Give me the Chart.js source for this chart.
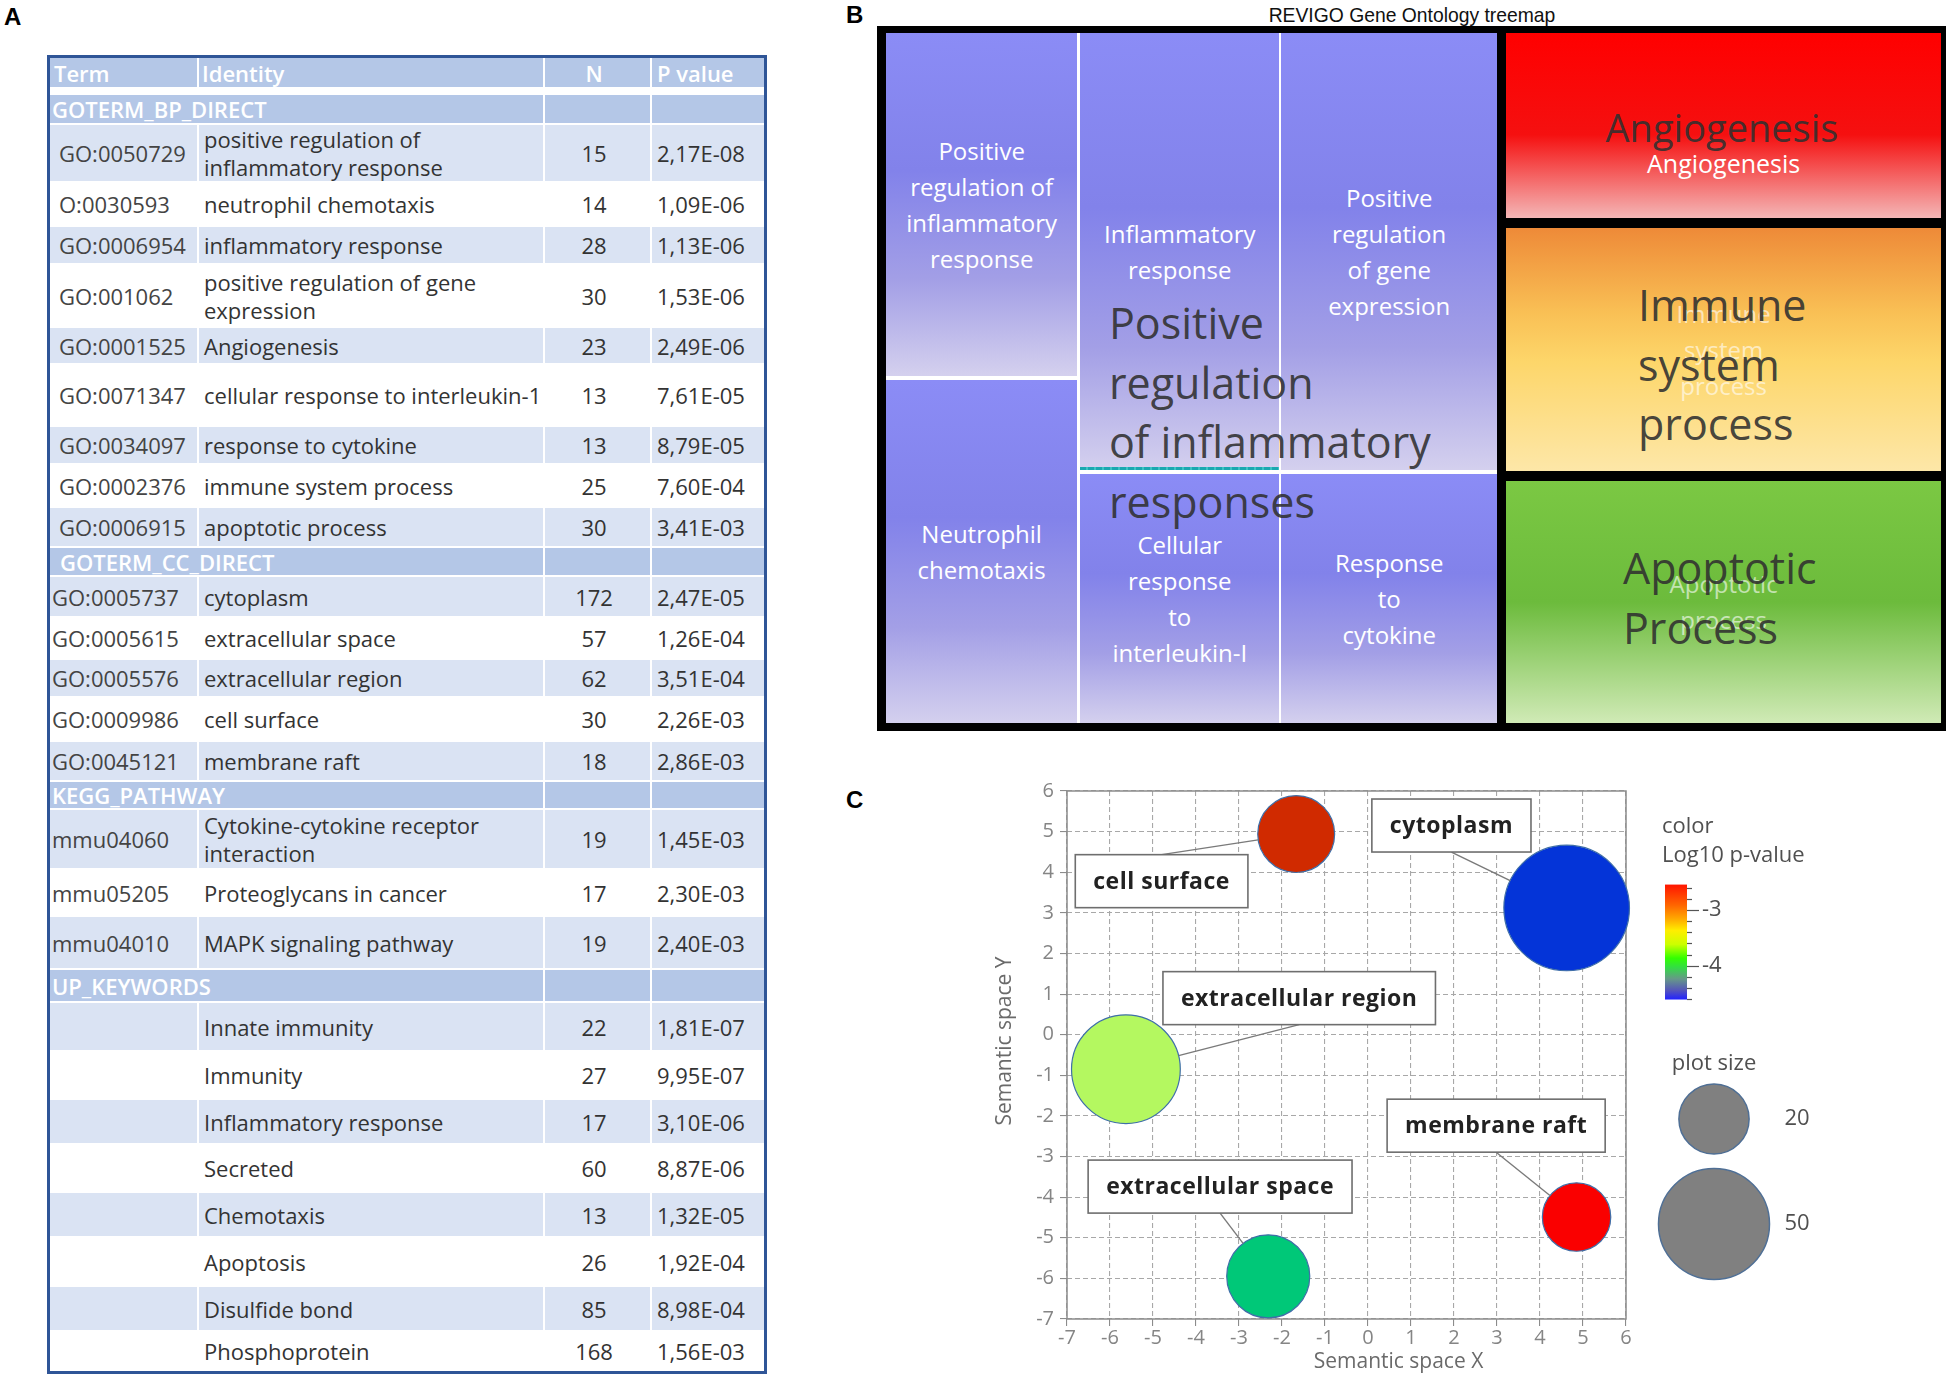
<!DOCTYPE html>
<html>
<head>
<meta charset="utf-8">
<script src="https://cdn.jsdelivr.net/npm/chart.js@4.4.1/dist/chart.umd.min.js"></script>
<style>
  body { margin: 0; width: 1950px; height: 1377px; position: relative; background: #fff; overflow: hidden; font-family: "Open Sans", sans-serif; }
  .plabel { position: absolute; font: bold 24px/24px "Liberation Sans", Arial, sans-serif; color: #000; }
  #tbl { position: absolute; left: 47px; top: 55px; width: 720px; height: 1319px; box-sizing: border-box; border: 3px solid #2f5597; overflow: hidden; font-size: 22px; color: #333; }
  .row { display: grid; grid-template-columns: 147px 344px 105px 112px; column-gap: 2px; }
  .cell { display: flex; align-items: center; white-space: pre-line; line-height: 28px; overflow: hidden; padding-left: 5px; }
  .cell.num { justify-content: center; padding-left: 0; padding-right: 7px; }
  .cell.head { color: #fff; font-weight: 600; }
  #tmTitle { position: absolute; left: 1212px; top: 3px; width: 400px; text-align: center; font: 21px/24px "Liberation Sans Narrow", "Liberation Sans", Arial, sans-serif; color: #111; transform: scaleX(0.92); }
  #treemap { position: absolute; left: 877px; top: 26px; width: 1069px; height: 705px; background: #000; box-sizing: border-box; padding: 7px 5px 8px 9px; display: flex; gap: 9px; }
  .tm-col { display: flex; flex-direction: column; flex-basis: 0; min-width: 0; min-height: 0; }
  .tm-row { display: flex; flex-basis: 0; min-width: 0; min-height: 0; }
  .tm-cell { position: relative; flex-basis: 0; min-width: 0; min-height: 0; display: flex; align-items: center; justify-content: center; text-align: center; white-space: pre-line; color: #fff; font: 24px/36px "Open Sans", sans-serif; overflow: hidden; }
  .tm-big { position: absolute; font: 43px/59.5px "Open Sans", sans-serif; color: rgba(48, 48, 48, 0.9); white-space: pre; }
  #bubble { position: absolute; left: 990px; top: 770px; }
</style>
</head>
<body>
<div class="plabel" style="left:4px;top:5px">A</div>
<div class="plabel" style="left:846px;top:3px">B</div>
<div class="plabel" style="left:846px;top:788px">C</div>
<div id="tbl"></div>
<div id="tmTitle">REVIGO Gene Ontology treemap</div>
<div id="treemap"></div>
<canvas id="bubble" width="960" height="607"></canvas>

<script>
// ---- panel A: enrichment table ----
const tableHeader = ['Term', 'Identity', 'N', 'P value'];
const sectionNames = ['GOTERM_BP_DIRECT', 'GOTERM_CC_DIRECT', 'KEGG_PATHWAY', 'UP_KEYWORDS'];
const termSection = [0, 0, 0, 0, 0, 0, 0, 0, 0, 1, 1, 1, 1, 1, 2, 2, 2, 3, 3, 3, 3, 3, 3, 3, 3];
const termIds = ['GO:0050729', 'O:0030593', 'GO:0006954', 'GO:001062', 'GO:0001525', 'GO:0071347',
  'GO:0034097', 'GO:0002376', 'GO:0006915',
  'GO:0005737', 'GO:0005615', 'GO:0005576', 'GO:0009986', 'GO:0045121',
  'mmu04060', 'mmu05205', 'mmu04010',
  '', '', '', '', '', '', '', ''];
const termNames = ['positive regulation of\ninflammatory response', 'neutrophil chemotaxis', 'inflammatory response',
  'positive regulation of gene\nexpression', 'Angiogenesis', 'cellular response to interleukin-1',
  'response to  cytokine', 'immune system process', 'apoptotic process',
  'cytoplasm', 'extracellular space', 'extracellular region', 'cell surface', 'membrane  raft',
  'Cytokine-cytokine receptor\ninteraction', 'Proteoglycans in cancer', 'MAPK  signaling pathway',
  'Innate immunity', 'Immunity', 'Inflammatory response', 'Secreted', 'Chemotaxis', 'Apoptosis',
  'Disulfide bond', 'Phosphoprotein'];
const termCounts = [15, 14, 28, 30, 23, 13, 13, 25, 30, 172, 57, 62, 30, 18, 19, 17, 19, 22, 27, 17, 60, 13, 26, 85, 168];
const termPValues = [2.17e-8, 1.09e-6, 1.13e-6, 1.53e-6, 2.49e-6, 7.61e-5, 8.79e-5, 7.60e-4, 3.41e-3,
  2.47e-5, 1.26e-4, 3.51e-4, 2.26e-3, 2.86e-3,
  1.45e-3, 2.30e-3, 2.40e-3,
  1.81e-7, 9.95e-7, 3.10e-6, 8.87e-6, 1.32e-5, 1.92e-4, 8.98e-4, 1.56e-3];

// ---- panel B: REVIGO treemap ----
const tmTerms = ['Positive\nregulation of\ninflammatory\nresponse', 'Neutrophil\nchemotaxis',
  'Inflammatory\nresponse', 'Cellular\nresponse\nto\ninterleukin-I',
  'Positive\nregulation\nof gene\nexpression', 'Response\nto\ncytokine',
  'Angiogenesis', 'Immune\nsystem\nprocess', 'Apoptotic\nprocess'];
const tmArea = [65, 65, 86.5, 49.3, 94, 53.5, 81, 107, 106];
const tmGroups = ['Positive\nregulation\nof inflammatory\nresponses', 'Angiogenesis', 'Immune\nsystem\nprocess', 'Apoptotic\nProcess'];

// ---- panel C: semantic space bubbles (GOTERM_CC) ----
const bubbleTerms = ['cytoplasm', 'extracellular space', 'extracellular region', 'cell surface', 'membrane raft'];
const bubbleX = [4.62, -2.32, -5.63, -1.67, 4.85];
const bubbleY = [3.12, -5.95, -0.85, 4.94, -4.49];
const bubblePlotSize = [64, 28, 48, 24, 19];
const bubblePValues = [2.47e-5, 1.26e-4, 3.51e-4, 2.26e-3, 2.86e-3];
const labelX = [1.94, -3.44, -1.60, -4.80, 2.98];
const labelY = [5.15, -3.74, 0.90, 3.78, -2.24];
const axisTicks = [-7, -6, -5, -4, -3, -2, -1, 0, 1, 2, 3, 4, 5, 6];
const colorTicks = [-3, -4];
const sizeLegend = [20, 50];

// styles
const bubbleColors = ['#0434d8', '#00c878', '#b4f860', '#d02a00', '#fa0000'];
const rowHeights = [37, 30, 58, 44, 38, 63, 37, 62, 38, 43, 40, 29, 41, 42, 38, 44, 40, 28, 60, 47, 53, 33, 49, 48, 45, 48, 45, 49, 45, 40];
const headBlue = '#b4c7e7', rowBlue = '#dae3f3';

function fmtP(p) {
  const parts = p.toExponential(2).split('e');
  const e = +parts[1];
  return parts[0].replace('.', ',') + 'E' + (e < 0 ? '-' : '+') + String(Math.abs(e)).padStart(2, '0');
}

// table
(function () {
  const tbl = document.getElementById('tbl');
  let ri = 0;
  function makeRow(gap) {
    const r = document.createElement('div');
    r.className = 'row';
    r.style.height = (rowHeights[ri++] - gap) + 'px';
    r.style.marginBottom = gap + 'px';
    tbl.appendChild(r);
    return r;
  }
  function makeCell(row, text, cls, bg) {
    const c = document.createElement('div');
    c.className = 'cell ' + (cls || '');
    c.textContent = text;
    if (bg) c.style.background = bg;
    row.appendChild(c);
    return c;
  }
  let r = makeRow(8);
  makeCell(r, tableHeader[0], 'head', headBlue).style.paddingLeft = '4px';
  makeCell(r, tableHeader[1], 'head', headBlue).style.paddingLeft = '3px';
  makeCell(r, tableHeader[2], 'head num', headBlue);
  makeCell(r, tableHeader[3], 'head', headBlue);

  sectionNames.forEach(function (sec, s) {
    r = makeRow(2);
    const c = makeCell(r, sec, 'head', headBlue);
    c.style.gridColumn = 'span 2';
    c.style.paddingLeft = s === 1 ? '10px' : '2px';
    makeCell(r, '', '', headBlue);
    makeCell(r, '', '', headBlue);
    let k = 0;
    termSection.forEach(function (ts, i) {
      if (ts !== s) return;
      const bg = k % 2 === 0 ? rowBlue : '#fff';
      k++;
      r = makeRow(2);
      const idc = makeCell(r, termIds[i], '', bg);
      idc.style.paddingLeft = s === 0 ? '9px' : '2px';
      idc.style.color = '#444';
      makeCell(r, termNames[i], '', bg);
      makeCell(r, String(termCounts[i]), 'num', bg);
      makeCell(r, fmtP(termPValues[i]), '', bg);
    });
  });
})();

// treemap
(function () {
  const tm = document.getElementById('treemap');
  const purpleGrad = 'linear-gradient(to bottom, #8b8cf6 0%, #8282ea 40%, #a39fe6 72%, #d4d0ee 100%)';
  const cellGrad = [purpleGrad, purpleGrad, purpleGrad, purpleGrad, purpleGrad, purpleGrad,
    'linear-gradient(to bottom, #ff0000 0%, #f51010 55%, #f4b6b6 100%)',
    'linear-gradient(to bottom, #ee8a38 0%, #f9c055 35%, #fdd66a 55%, #fde7a8 100%)',
    'linear-gradient(to bottom, #7bc843 0%, #6cbb3c 50%, #d0eab6 100%)'];
  function el(cls, grow, parent) {
    const d = document.createElement('div');
    d.className = cls;
    d.style.flexGrow = grow;
    parent.appendChild(d);
    return d;
  }
  function cell(i, parent) {
    const d = el('tm-cell', tmArea[i], parent);
    d.style.background = cellGrad[i];
    const s = document.createElement('span');
    s.textContent = tmTerms[i];
    d.appendChild(s);
    return d;
  }
  const a = tmArea;
  const left = el('tm-row', a[0] + a[1] + a[2] + a[3] + a[4] + a[5], tm);
  left.style.background = '#fff';
  left.style.gap = '3px';
  const right = el('tm-col', a[6] + a[7] + a[8], tm);
  right.style.gap = '10px';

  const col1 = el('tm-col', a[0] + a[1], left);
  col1.style.gap = '4px';
  cell(0, col1); cell(1, col1);
  const colB = el('tm-col', a[2] + a[3] + a[4] + a[5], left);
  colB.style.gap = '4px';
  const top = el('tm-row', a[2] + a[4], colB);
  top.style.gap = '2px';
  const bot = el('tm-row', a[3] + a[5], colB);
  bot.style.gap = '2px';
  const c2 = cell(2, top);
  const teal = document.createElement('div');
  teal.style.cssText = 'position:absolute;left:0;right:0;bottom:0;height:3px;background:repeating-linear-gradient(90deg,#1aa8b0 0 6px,#3cc4c4 6px 8px)';
  c2.appendChild(teal);
  cell(4, top);
  cell(3, bot); cell(5, bot);

  const angio = cell(6, right);
  angio.firstChild.style.cssText = 'font-size:25px;transform:translateY(38px)';
  const imm = cell(7, right);
  imm.firstChild.style.color = 'rgba(255,255,255,0.6)';
  const apo = cell(8, right);
  apo.firstChild.style.color = 'rgba(255,255,255,0.6)';

  // big group labels
  const bigPos = [
    'left:232px;top:267px',
    'left:626px;top:72px;width:438px;text-align:center;font-size:38px',
    'left:761px;top:249px',
    'left:746px;top:512px'
  ];
  tmGroups.forEach(function (g, i) {
    const d = document.createElement('div');
    d.className = 'tm-big';
    d.style.cssText = bigPos[i];
    d.textContent = g;
    tm.appendChild(d);
  });
})();

// bubble chart
const sizeToRadius = function (v) { return 7.85 * Math.sqrt(v); };
const logP = bubblePValues.map(function (p) { return Math.log10(p); });
const cbTop = Math.max.apply(null, logP), cbBottom = Math.min.apply(null, logP);

const decorPlugin = {
  id: 'decor',
  beforeDatasetsDraw(chart) {
    const ctx = chart.ctx, ca = chart.chartArea;
    ctx.save();
    ctx.strokeStyle = '#8c8c8c';
    ctx.lineWidth = 1.5;
    ctx.strokeRect(ca.left, ca.top, ca.right - ca.left, ca.bottom - ca.top);
    ctx.restore();
  },
  afterDatasetsDraw(chart) {
    const ctx = chart.ctx, ca = chart.chartArea;
    const xs = chart.scales.x, ys = chart.scales.y;
    const meta = chart.getDatasetMeta(0);
    ctx.save();
    ctx.font = 'bold 23px "Open Sans"';
    ctx.letterSpacing = '0.5px';
    // leader lines first
    bubbleTerms.forEach(function (name, i) {
      const el = meta.data[i];
      const cx = xs.getPixelForValue(labelX[i]), cy = ys.getPixelForValue(labelY[i]);
      const h = 53;
      const sy = el.y < cy ? cy - h / 2 : cy + h / 2;
      const dx = cx - el.x, dy = sy - el.y, d = Math.hypot(dx, dy);
      const r = el.options.radius;
      ctx.strokeStyle = '#7a7a7a';
      ctx.lineWidth = 1.4;
      ctx.beginPath();
      ctx.moveTo(cx, sy);
      ctx.lineTo(el.x + dx / d * r, el.y + dy / d * r);
      ctx.stroke();
    });
    bubbleTerms.forEach(function (name, i) {
      const cx = xs.getPixelForValue(labelX[i]), cy = ys.getPixelForValue(labelY[i]);
      const w = ctx.measureText(name).width + 36, h = 53;
      ctx.fillStyle = '#fff';
      ctx.fillRect(cx - w / 2, cy - h / 2, w, h);
      ctx.strokeStyle = '#6e6e6e';
      ctx.lineWidth = 1.6;
      ctx.strokeRect(cx - w / 2, cy - h / 2, w, h);
      ctx.fillStyle = '#222';
      ctx.textAlign = 'center';
      ctx.textBaseline = 'middle';
      ctx.fillText(name, cx, cy + 1);
    });
    ctx.restore();

    // axis titles
    ctx.save();
    ctx.font = '21px "Open Sans"';
    ctx.fillStyle = '#6a6a6a';
    ctx.textAlign = 'center';
    ctx.textBaseline = 'middle';
    ctx.fillText('Semantic space X', (ca.left + ca.right) / 2 + 52, ca.bottom + 43);
    ctx.translate(ca.left - 62, (ca.top + ca.bottom) / 2 - 14);
    ctx.rotate(-Math.PI / 2);
    ctx.fillText('Semantic space Y', 0, 0);
    ctx.restore();

    // colour legend
    ctx.save();
    const lx = ca.right + 36;
    ctx.font = '22px "Open Sans"';
    ctx.fillStyle = '#505050';
    ctx.textBaseline = 'alphabetic';
    ctx.fillText('color', lx, ca.top + 42);
    ctx.fillText('Log10 p-value', lx, ca.top + 71);
    const bx = ca.right + 39, bw = 22, pxPerUnit = 55.7;
    const yOf = function (v) { return ca.top + 119 + (colorTicks[0] - v) * pxPerUnit; };
    const by0 = yOf(cbTop), by1 = yOf(cbBottom);
    const g = ctx.createLinearGradient(0, by0, 0, by1);
    g.addColorStop(0, '#ff1500');
    g.addColorStop(0.18, '#ff6600');
    g.addColorStop(0.3, '#ffaa00');
    g.addColorStop(0.4, '#ffee00');
    g.addColorStop(0.52, '#ccff00');
    g.addColorStop(0.64, '#33ff00');
    g.addColorStop(0.72, '#33dd44');
    g.addColorStop(0.82, '#669988');
    g.addColorStop(0.92, '#5555bb');
    g.addColorStop(1, '#2222ff');
    ctx.fillStyle = g;
    ctx.fillRect(bx, by0, bw, by1 - by0);
    ctx.strokeStyle = '#555';
    ctx.lineWidth = 1.2;
    for (let v = -2.6; v >= cbBottom - 0.01; v -= 0.2) {
      const ty = Math.round(yOf(v)) + 0.5;
      const major = colorTicks.some(function (t) { return Math.abs(t - v) < 0.01; });
      ctx.beginPath();
      ctx.moveTo(bx + bw, ty);
      ctx.lineTo(bx + bw + (major ? 12 : 5), ty);
      ctx.stroke();
    }
    ctx.font = '22px "Open Sans"';
    ctx.fillStyle = '#505050';
    ctx.textBaseline = 'middle';
    colorTicks.forEach(function (t) { ctx.fillText(String(t), bx + bw + 15, yOf(t)); });

    // size legend
    const sx = ca.right + 88;
    ctx.font = '22px "Open Sans"';
    ctx.textAlign = 'center';
    ctx.textBaseline = 'alphabetic';
    ctx.fillText('plot size', sx, ca.top + 279);
    const sizeY = [ca.top + 328, ca.top + 433];
    sizeLegend.forEach(function (v, i) {
      ctx.beginPath();
      ctx.arc(sx, sizeY[i], sizeToRadius(v), 0, Math.PI * 2);
      ctx.fillStyle = '#808080';
      ctx.fill();
      ctx.strokeStyle = '#4f6f95';
      ctx.lineWidth = 1.5;
      ctx.stroke();
      ctx.fillStyle = '#505050';
      ctx.font = '22px "Open Sans"';
      ctx.textBaseline = 'middle';
      ctx.fillText(String(v), ca.right + 171, sizeY[i]);
    });
    ctx.restore();
  }
};

const axisOpts = function (axis) {
  return {
    type: 'linear',
    min: axisTicks[0],
    max: axisTicks[axisTicks.length - 1],
    afterBuildTicks: function (s) { s.ticks = axisTicks.map(function (v) { return { value: v }; }); },
    afterFit: function (s) { if (axis === 'y') s.width = 77; else s.height = 40; },
    ticks: { color: '#858585', font: { family: 'Open Sans', size: 20 }, padding: axis === 'y' ? 6 : 0 },
    grid: { color: '#a8a8a8', lineWidth: 1.1, tickLength: 7, tickColor: '#8c8c8c', tickBorderDash: [] },
    border: { display: false, dash: [5, 3] }
  };
};

new Chart(document.getElementById('bubble'), {
  type: 'bubble',
  data: {
    datasets: [{
      data: bubbleTerms.map(function (t, i) {
        return { x: bubbleX[i], y: bubbleY[i], r: sizeToRadius(bubblePlotSize[i]) };
      }),
      backgroundColor: bubbleColors,
      borderColor: '#3f6fa8',
      borderWidth: 1.2,
      clip: false
    }]
  },
  options: {
    responsive: false,
    animation: false,
    devicePixelRatio: 1,
    layout: { autoPadding: false, padding: { left: 0, right: 324, top: 21, bottom: 18 } },
    plugins: { legend: { display: false }, tooltip: { enabled: false } },
    scales: { x: axisOpts('x'), y: axisOpts('y') }
  },
  plugins: [decorPlugin]
});
</script>
</body>
</html>
